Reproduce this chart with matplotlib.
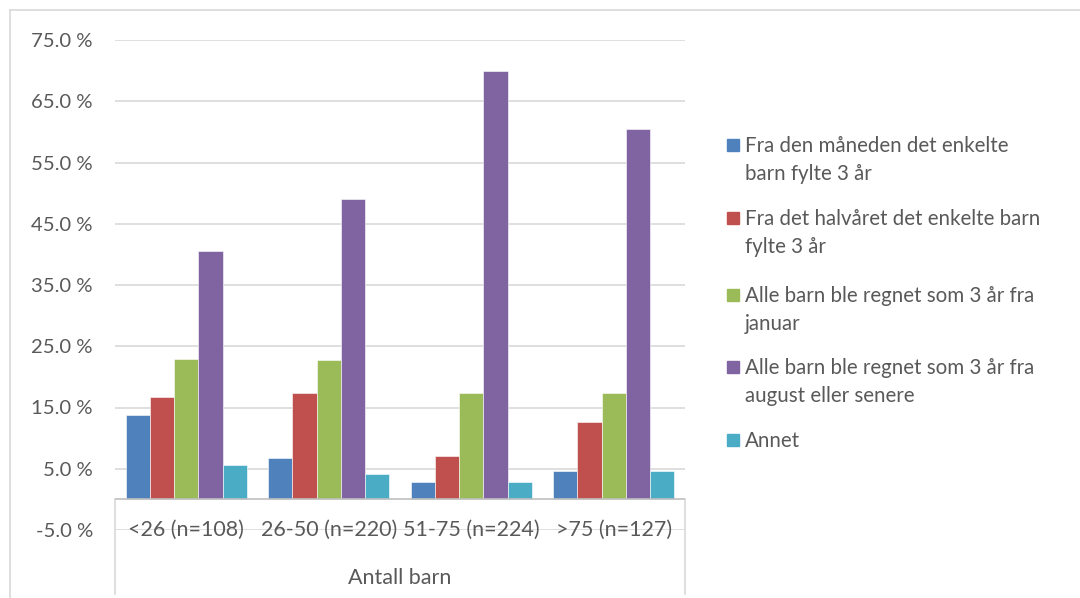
import matplotlib.pyplot as plt
from matplotlib.patches import Rectangle
from matplotlib.lines import Line2D
import numpy as np

plt.rcParams['font.family'] = ['Lato', 'DejaVu Sans']

categories = ['<26 (n=108)', '26-50 (n=220)', '51-75 (n=224)', '>75 (n=127)']
series_names = ['Fra den måneden det enkelte\nbarn fylte 3 år',
                'Fra det halvåret det enkelte barn\nfylte 3 år',
                'Alle barn ble regnet som 3 år fra\njanuar',
                'Alle barn ble regnet som 3 år fra\naugust eller senere',
                'Annet']
fra_maaned = [13.8, 6.8, 2.8, 4.7]
fra_halvaar = [16.7, 17.3, 7.1, 12.6]
januar = [23.0, 22.7, 17.4, 17.3]
august = [40.6, 49.1, 70.0, 60.5]
annet = [5.6, 4.1, 2.8, 4.7]
values = [fra_maaned, fra_halvaar, januar, august, annet]
colors = ['#4F81BD', '#C0504D', '#9BBB59', '#8064A2', '#4BACC6']
yticks = np.arange(-5, 76, 10)

txt = '#595959'
grid = '#d9d9d9'
fs = 15.5

fig = plt.figure(figsize=(10.8, 5.98), dpi=100)
W, H = 1080, 598
ax = fig.add_axes([115 / W, 1 - 530 / H, 570 / W, 490 / H])

x = np.arange(len(categories))
bw = 0.17
for i, (vals, c) in enumerate(zip(values, colors)):
    ax.bar(x + (i - 2) * bw, vals, bw, color=c, edgecolor='white', linewidth=0.4, zorder=3)

ax.set_xlim(-0.5, len(categories) - 0.5)
ax.set_ylim(-5, 75)
ax.set_yticks(yticks)
ax.set_yticklabels([f'{v:.1f} %' for v in yticks], color=txt, fontsize=14.6)
ax.tick_params(axis='y', length=0, pad=16)
ax.set_xticks([])
for s in ax.spines.values():
    s.set_visible(False)
ax.grid(axis='y', color=grid, linewidth=1.2, zorder=0)

# category axis box
ax.axhline(0, color='#bfbfbf', linewidth=1.2, zorder=4)
tr = ax.get_yaxis_transform()
for xe in (0, 1):
    ax.plot([xe, xe], [0, -15.5], transform=tr, color=grid, linewidth=1.2, clip_on=False)
for xi, lab in zip(x, categories):
    ax.text(xi, -5, lab, ha='center', va='center', color=txt, fontsize=fs, clip_on=False)
ax.text(0.5, -12.8, 'Antall barn', transform=tr, ha='center', va='center', color=txt, fontsize=fs)

# legend
ys = [145, 218, 295, 367, 440]
for name, c, yp in zip(series_names, colors, ys):
    fig.add_artist(Rectangle((727 / W, 1 - (yp + 6) / H), 12 / W, 12 / H, color=c, transform=fig.transFigure))
    fig.text(745 / W, 1 - (yp - 9) / H, name, ha='left', va='top', color=txt, fontsize=14.8, linespacing=1.47)

# outer border
fig.add_artist(Line2D([10 / W, 1], [1 - 10 / H, 1 - 10 / H], color=grid, linewidth=1.2))
fig.add_artist(Line2D([10 / W, 10 / W], [0, 1 - 10 / H], color=grid, linewidth=1.2))

fig.savefig('out.png', dpi=100)
